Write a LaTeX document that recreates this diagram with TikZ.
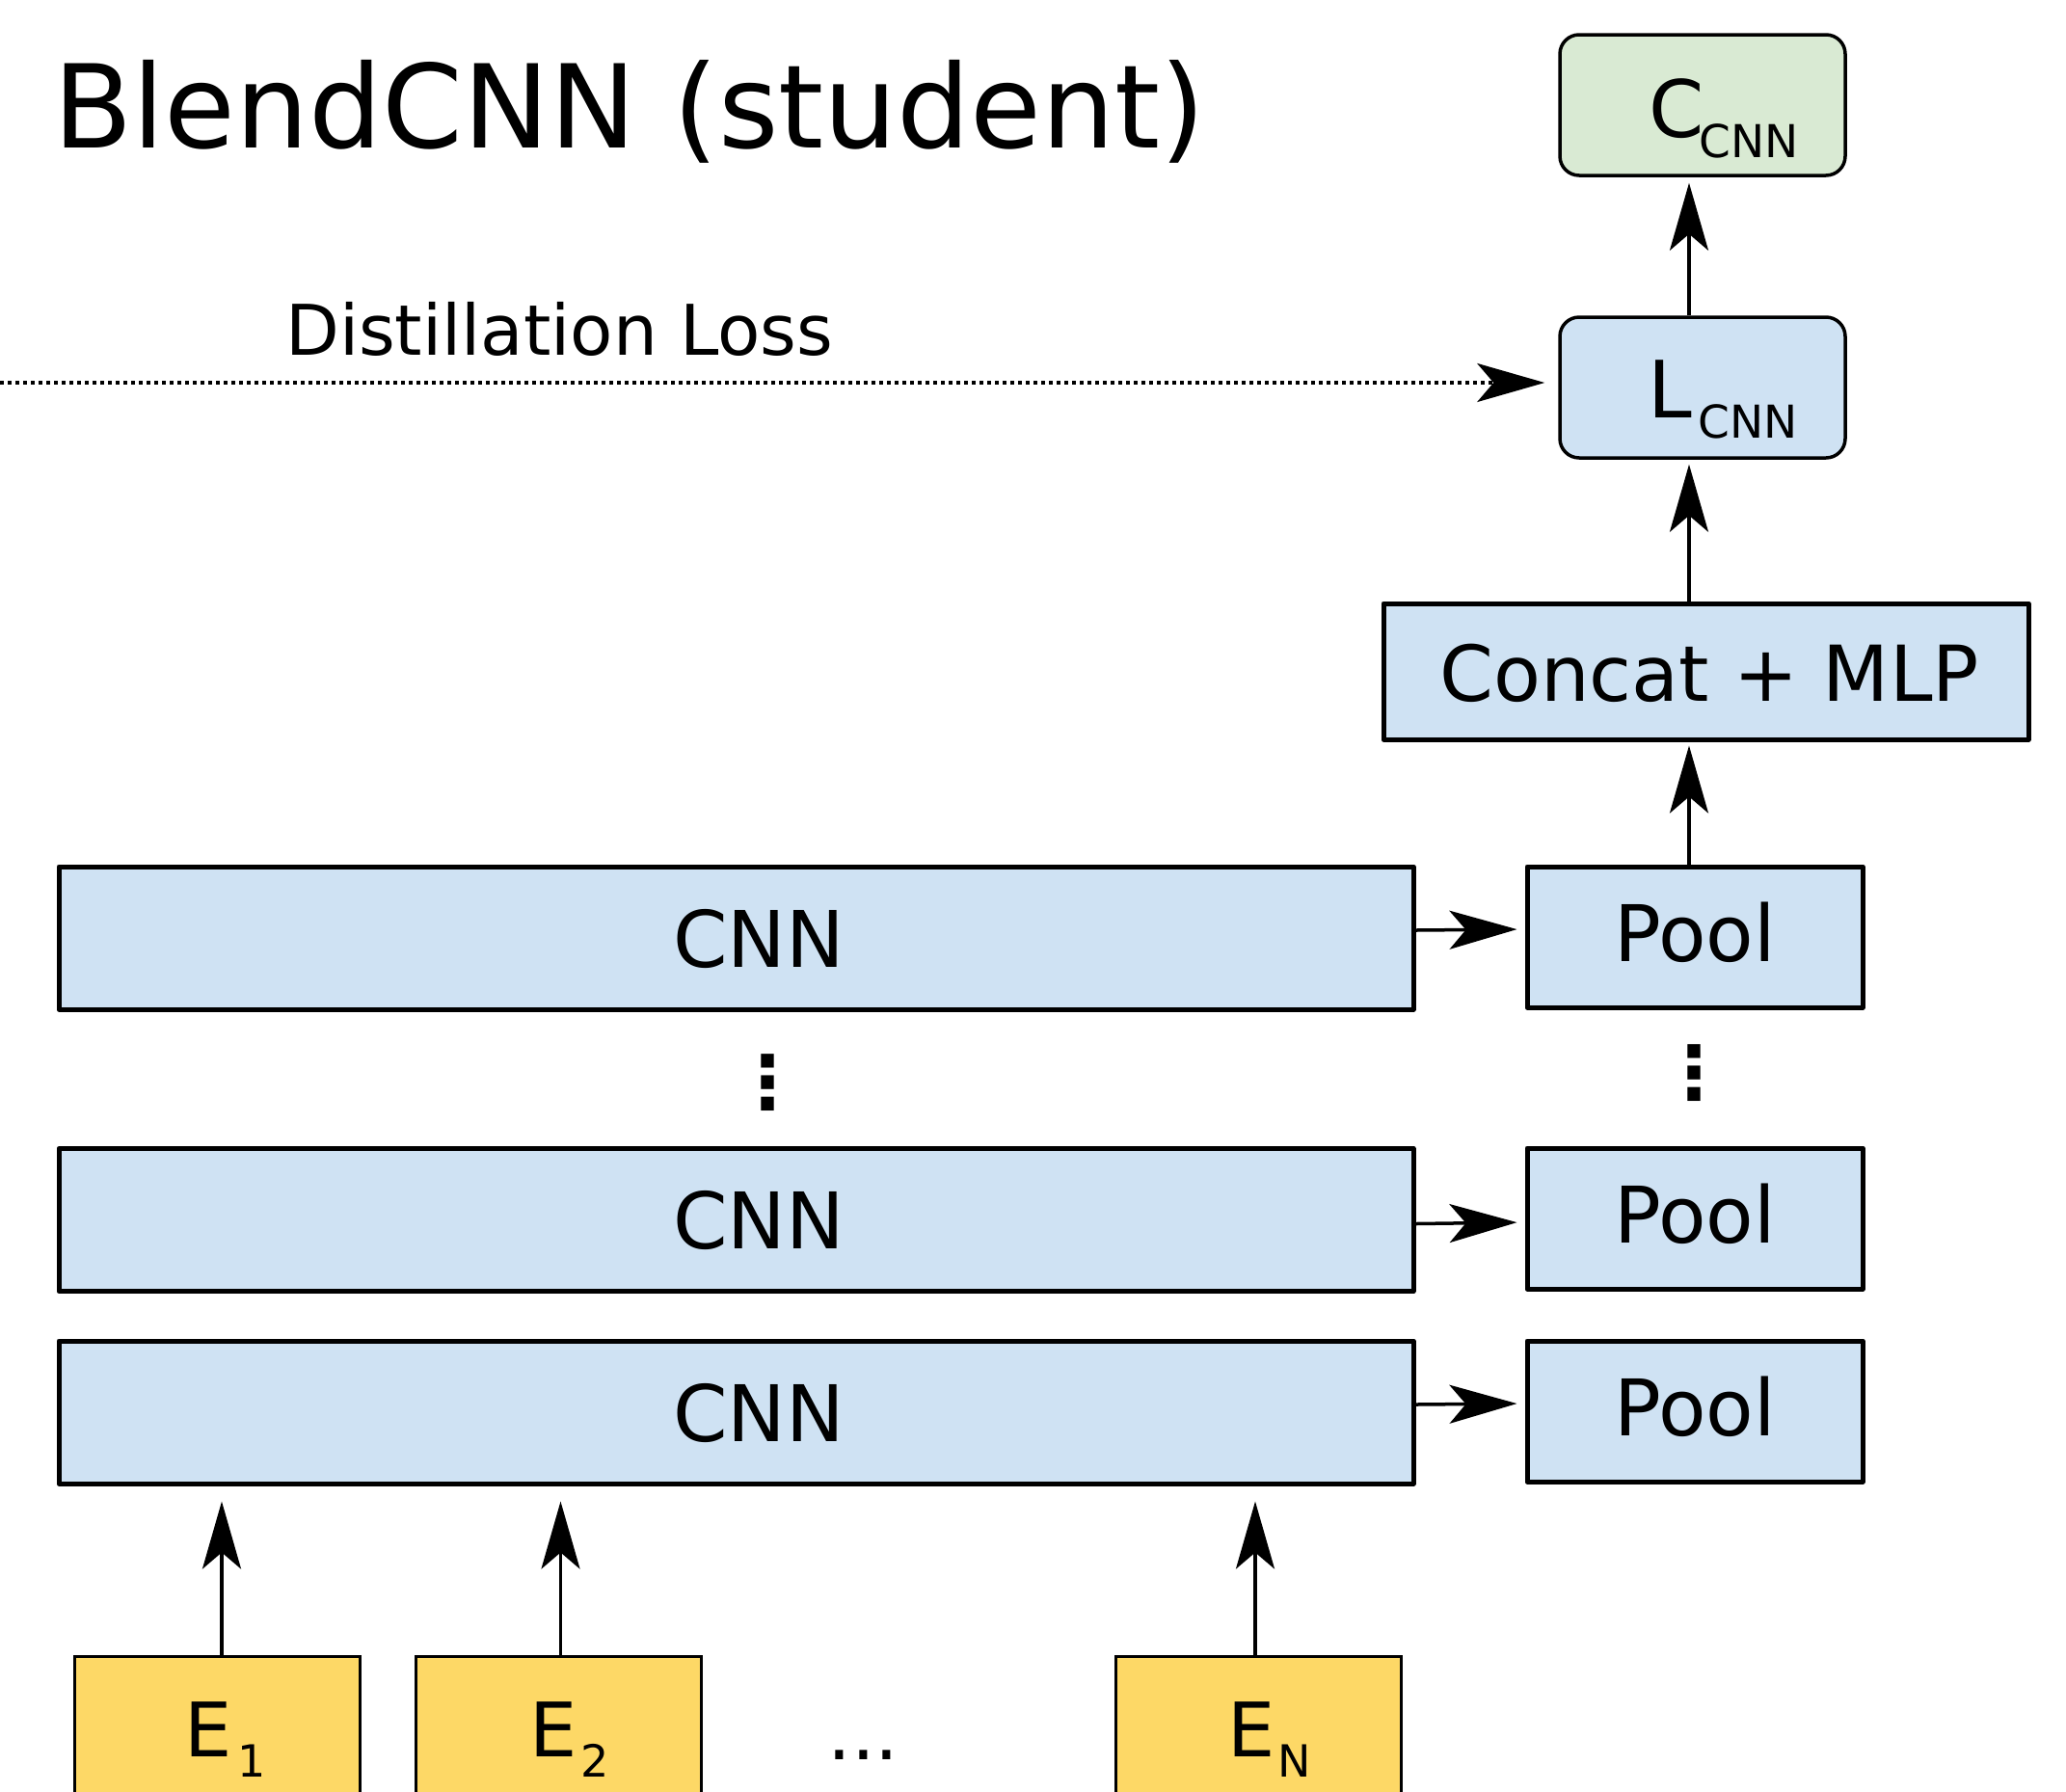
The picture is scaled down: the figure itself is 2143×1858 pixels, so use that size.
\documentclass[tikz,border=0pt]{standalone}
\usepackage{fontspec}
\setmainfont{DejaVu Sans}
\usetikzlibrary{arrows.meta}
\definecolor{bluefill}{HTML}{CFE2F3}
\definecolor{greenfill}{HTML}{D9EAD3}
\definecolor{yellowfill}{HTML}{FDD866}
\begin{document}
\begin{tikzpicture}[x=1pt,y=-1pt,
  box/.style={draw=black, fill=bluefill, line width=5pt, inner sep=0pt, rectangle, line join=round},
  rbox/.style={draw=black, line width=3.5pt, rounded corners=20pt, inner sep=0pt, minimum width=296pt, minimum height=146pt},
  ebox/.style={draw=black, fill=yellowfill, line width=3pt, inner sep=0pt, minimum width=296pt, minimum height=200pt, anchor=north},
  arr/.style={line width=3.5pt, -{Stealth[length=70pt,width=40pt,inset=17pt]}},
  lbl/.style={inner sep=0pt, anchor=base, font=\fontsize{81}{81}\selectfont},
  vdots/.style={inner sep=0pt, font=\fontsize{76}{76}\bfseries\selectfont}]
\useasboundingbox (0,0) rectangle (2143,1858);
\clip (0,0) rectangle (2143,1858);

% title
\node[inner sep=0pt, anchor=base west, font=\fontsize{120}{120}\selectfont] (title) at (55,153) {BlendCNN (student)};

% CNN boxes
\node[box, minimum width=1405pt, minimum height=148pt] (c1) at (763.5,973) {};
\node[box, minimum width=1405pt, minimum height=148pt] (c2) at (763.5,1265.5) {};
\node[box, minimum width=1405pt, minimum height=148pt] (c3) at (763.5,1465) {};
\node[lbl] (t1) at (787,1003) {CNN};
\node[lbl] (t2) at (787,1295) {CNN};
\node[lbl] (t3) at (787,1495) {CNN};

% Pool boxes
\node[box, minimum width=348pt, minimum height=146pt] (p1) at (1758,972) {};
\node[box, minimum width=348pt, minimum height=146pt] (p2) at (1758,1264) {};
\node[box, minimum width=348pt, minimum height=146pt] (p3) at (1758,1464) {};
\node[lbl] (pt1) at (1758,997) {Pool};
\node[lbl] (pt2) at (1758,1289) {Pool};
\node[lbl] (pt3) at (1758,1489) {Pool};

% vertical dots
\node[vdots] (d1) at (796,1123) {⋮};
\node[vdots] (d2) at (1757,1113) {⋮};

% Concat + MLP
\node[box, minimum width=669pt, minimum height=141pt] (cm) at (1769.5,696.5) {};
\node[lbl, font=\fontsize{80}{80}\selectfont] (cmt) at (1773,727) {Concat + MLP};

% L and C
\node[rbox, fill=bluefill] (L) at (1766,402) {};
\node[rbox, fill=greenfill] (C) at (1766,109) {};
\node[inner sep=0pt, anchor=base west, font=\fontsize{82}{82}\selectfont] (Lt) at (1709,433) {L\hspace{7pt}\raisebox{-21pt}{\fontsize{47}{47}\selectfont CNN}};
\node[inner sep=0pt, anchor=base west, font=\fontsize{82}{82}\selectfont] (Ct) at (1710,142) {C\hspace{-5pt}\raisebox{-21pt}{\fontsize{47}{47}\selectfont CNN}};

% E boxes
\node[ebox] (e1) at (225,1717) {};
\node[ebox] (e2) at (579.5,1717) {};
\node[ebox] (eN) at (1305,1717) {};
\node[inner sep=0pt, anchor=base west, font=\fontsize{78}{78}\selectfont] (e1t) at (191,1822) {E\hspace{6pt}\raisebox{-21pt}{\fontsize{46}{46}\selectfont 1}};
\node[inner sep=0pt, anchor=base west, font=\fontsize{78}{78}\selectfont] (e2t) at (549,1822) {E\hspace{4pt}\raisebox{-21pt}{\fontsize{46}{46}\selectfont 2}};
\node[inner sep=0pt, anchor=base west, font=\fontsize{78}{78}\selectfont] (eNt) at (1273,1822) {E\hspace{3pt}\raisebox{-21pt}{\fontsize{46}{46}\selectfont N}};
\node[inner sep=0pt, anchor=base west, font=\fontsize{78}{78}\selectfont] (edots) at (858,1825) {...};

% Distillation loss
\coordinate (dstart) at (0,397);
\node[inner sep=0pt, anchor=base west, font=\fontsize{72.5}{72.5}\selectfont] (dl) at (296,368) {Distillation Loss};
\draw[line width=3.5pt, dash pattern=on 4pt off 4pt, -{Stealth[length=70pt,width=40pt,inset=17pt]}, shorten >=14pt] (dstart) -- (dstart -| L.west);

% arrows
\coordinate (colx) at (1752,0);
\draw[arr, shorten >=4pt] (p1.north -| colx) -- (cm.south -| colx);
\draw[arr, shorten >=5pt] (cm.north -| colx) -- (L.south -| colx);
\draw[arr, shorten >=6pt] (L.north -| colx) -- (C.south -| colx);

\draw[arr, shorten >=8pt] ([yshift=8pt]c1.east) -- ([yshift=8pt]p1.west);
\draw[arr, shorten >=8pt] ([yshift=-4pt]c2.east) -- ([yshift=-4pt]p2.west);
\draw[arr, shorten >=8pt] ([yshift=8pt]c3.east) -- ([yshift=8pt]p3.west);

\draw[arr, shorten >=16pt] ([xshift=5pt]e1.north) -- ([xshift=5pt]e1.north |- c3.south);
\draw[arr, shorten >=16pt] ([xshift=2pt]e2.north) -- ([xshift=2pt]e2.north |- c3.south);
\draw[arr, shorten >=16pt] ([xshift=-3pt]eN.north) -- ([xshift=-3pt]eN.north |- c3.south);
\end{tikzpicture}
\end{document}
